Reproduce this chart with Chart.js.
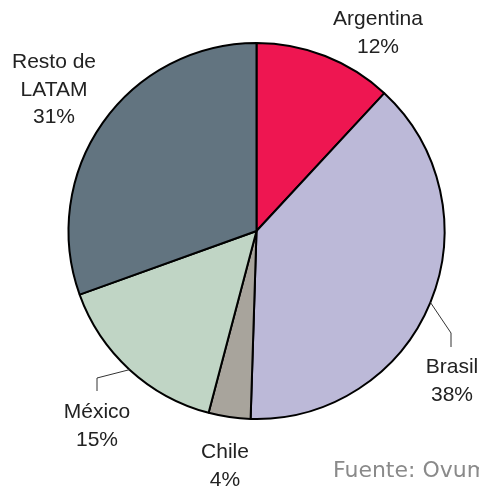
<!DOCTYPE html>
<html>
<head>
<meta charset="utf-8">
<script src="https://cdn.jsdelivr.net/npm/chart.js@4"></script>
<style>
  html, body { margin: 0; padding: 0; background: #fff; overflow: hidden; }
  #wrap { width: 479px; height: 489px; position: relative; }
</style>
</head>
<body>
<div id="wrap"><canvas id="chart" width="479" height="489"></canvas></div>
<script>
// data (slice sizes estimated from the angles, labels as printed)
let paises = ["Argentina", "Brasil", "Chile", "México", "Resto de LATAM"];
let shares = [11.9, 38.6, 3.6, 15.4, 30.5];
let etiquetas = [["Argentina", "12%"], ["Brasil", "38%"], ["Chile", "4%"], ["México", "15%"], ["Resto de", "LATAM", "31%"]];
let colores = ["#ee1651", "#bcb9d8", "#a8a49c", "#c0d5c5", "#627480"];

// where each label sits (center x, first baseline y)
let labelSpots = [
    { x: 378, y: 25 },
    { x: 452, y: 373 },
    { x: 225, y: 458 },
    { x: 97, y: 418 },
    { x: 54, y: 68 }
];
// leader lines: elbow point and end point (only Brasil and México)
let leaders = {
    1: [[451, 333], [451, 347]],
    3: [[97, 378], [97, 391]]
};

let labelPlugin = {
    id: "labels",
    afterDraw(chart) {
        let ctx = chart.ctx;
        let meta = chart.getDatasetMeta(0);
        ctx.save();

        meta.data.forEach((arc, i) => {
            let p = arc.getProps(["x", "y", "startAngle", "endAngle", "outerRadius"], true);
            if (leaders[i]) {
                let mid = (p.startAngle + p.endAngle) / 2;
                ctx.strokeStyle = "#333";
                ctx.lineWidth = 1;
                ctx.beginPath();
                ctx.moveTo(p.x + Math.cos(mid) * p.outerRadius, p.y + Math.sin(mid) * p.outerRadius);
                leaders[i].forEach(pt => ctx.lineTo(pt[0], pt[1]));
                ctx.stroke();
            }
            ctx.fillStyle = "#222";
            ctx.font = "21px 'Liberation Sans', Arial, sans-serif";
            ctx.textAlign = "center";
            ctx.textBaseline = "alphabetic";
            etiquetas[i].forEach((line, k) => {
                ctx.fillText(line, labelSpots[i].x, labelSpots[i].y + k * 27.5);
            });
        });

        ctx.fillStyle = "#8a8a8a";
        ctx.font = "22px 'DejaVu Sans', sans-serif";
        ctx.textAlign = "left";
        ctx.fillText("Fuente: Ovum", 333, 477);
        ctx.restore();
    }
};

let chart = new Chart(document.getElementById("chart"), {
    type: "pie",
    data: {
        labels: paises,
        datasets: [{
            data: shares,
            backgroundColor: colores,
            borderColor: "#000",
            borderWidth: 2
        }]
    },
    options: {
        responsive: false,
        animation: false,
        layout: {
            padding: { left: 67, right: 33, top: 42, bottom: 69 }
        },
        plugins: {
            legend: { display: false },
            tooltip: { enabled: false }
        }
    },
    plugins: [labelPlugin]
});
</script>
</body>
</html>
